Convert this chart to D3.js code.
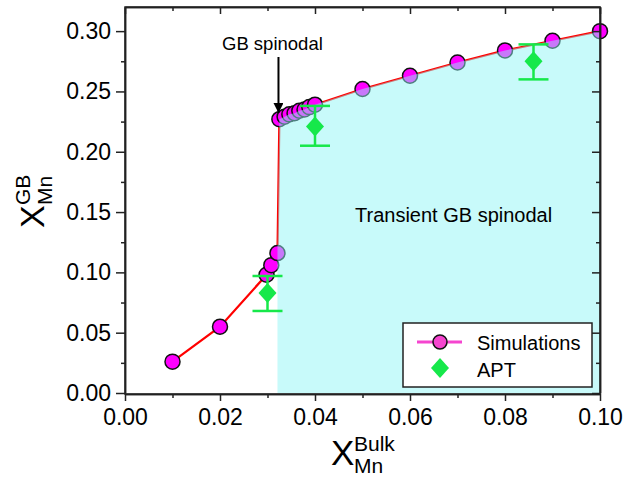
<!DOCTYPE html>
<html>
<head>
<meta charset="utf-8">
<script src="https://cdn.jsdelivr.net/npm/d3@7"></script>
<style>
body { margin: 0; background: #fff; }
svg text { font-family: "Liberation Sans", Arial, sans-serif; fill: #000; }
</style>
</head>
<body>
<svg id="chart" width="638" height="478"></svg>
<script>
// simulation points (bulk Mn fraction vs GB Mn fraction)
const simX = [0.01, 0.02, 0.0298, 0.0308, 0.0321, 0.0325, 0.0336, 0.0346, 0.0357, 0.0367, 0.0378, 0.0388, 0.0400, 0.05, 0.06, 0.07, 0.08, 0.09, 0.10];
const simY = [0.026, 0.055, 0.098, 0.106, 0.116, 0.227, 0.229, 0.231, 0.232, 0.234, 0.235, 0.237, 0.239, 0.252, 0.263, 0.274, 0.284, 0.292, 0.300];
// APT measurements with error bars
const aptX = [0.030, 0.040, 0.086];
const aptY = [0.083, 0.221, 0.275];
const aptLo = [0.068, 0.205, 0.260];
const aptHi = [0.097, 0.238, 0.289];
// start of the transient spinodal region
const spinX = 0.0321;
const xTicks = [0, 0.02, 0.04, 0.06, 0.08, 0.10];
const yTicks = [0, 0.05, 0.10, 0.15, 0.20, 0.25, 0.30];

const svg = d3.select("#chart");
const L = 125, R = 600, T = 7, B = 394;
const x = d3.scaleLinear().domain([0, 0.10]).range([L, R]);
const y = d3.scaleLinear().domain([0, 0.32]).range([B - 1, T]);

const sim = simX.map((d, i) => [d, simY[i]]);

// line + circles
svg.append("path").datum(sim)
  .attr("fill", "none").attr("stroke", "#ff0000").attr("stroke-width", 2.2)
  .attr("d", d3.line().x(d => x(d[0])).y(d => y(d[1])));
svg.selectAll("circle.sim").data(sim).enter().append("circle")
  .attr("class", "sim")
  .attr("cx", d => x(d[0])).attr("cy", d => y(d[1])).attr("r", 7.5)
  .attr("fill", "#ff00ff").attr("stroke", "#111").attr("stroke-width", 1.5);

// translucent region under the curve
const region = [[spinX, 0]].concat(sim.filter(d => d[0] >= spinX)).concat([[0.10, 0]]);
svg.append("path").datum(region)
  .attr("fill", "rgb(143,245,245)").attr("fill-opacity", 0.49)
  .attr("d", d3.line().x(d => x(d[0])).y(d => y(d[1])));

// APT error bars + diamonds
const green = "#16e84a";
aptX.forEach((d, i) => {
  const g = svg.append("g").attr("stroke", green).attr("stroke-width", 2.5);
  g.append("line").attr("x1", x(d)).attr("x2", x(d)).attr("y1", y(aptLo[i])).attr("y2", y(aptHi[i]));
  g.append("line").attr("x1", x(d) - 15).attr("x2", x(d) + 15).attr("y1", y(aptLo[i])).attr("y2", y(aptLo[i]));
  g.append("line").attr("x1", x(d) - 15).attr("x2", x(d) + 15).attr("y1", y(aptHi[i])).attr("y2", y(aptHi[i]));
});
svg.selectAll("path.apt").data(aptX).enter().append("path")
  .attr("class", "apt")
  .attr("transform", (d, i) => `translate(${x(d)},${y(aptY[i])})`)
  .attr("d", "M0,-10L9,0L0,10L-9,0Z")
  .attr("fill", green);

// axes
const fmt = d3.format(".2f");
const axisStyle = g => {
  g.selectAll("path.domain").attr("stroke", "#222").attr("stroke-width", 1.5);
  g.selectAll("line").attr("stroke", "#222").attr("stroke-width", 1.5);
  g.selectAll("text").style("font-size", "23px").attr("fill", "#000");
};
svg.append("g").attr("transform", `translate(0,${B})`)
  .call(d3.axisBottom(x).tickValues([0.01, 0.03, 0.05, 0.07, 0.09]).tickSize(4).tickFormat("").tickSizeOuter(0))
  .call(axisStyle);
svg.append("g").attr("transform", `translate(0,${B})`)
  .call(d3.axisBottom(x).tickValues(xTicks).tickSize(7).tickPadding(8).tickFormat(fmt).tickSizeOuter(0))
  .call(axisStyle);
svg.append("g").attr("transform", `translate(${L},0)`)
  .call(d3.axisLeft(y).tickValues([0.025, 0.075, 0.125, 0.175, 0.225, 0.275]).tickSize(4).tickFormat("").tickSizeOuter(0))
  .call(axisStyle);
svg.append("g").attr("transform", `translate(${L},0)`)
  .call(d3.axisLeft(y).tickValues(yTicks).tickSize(9).tickPadding(5).tickFormat(fmt).tickSizeOuter(0))
  .call(axisStyle);
// mirror axes, ticks pointing inside
svg.append("g").attr("transform", `translate(0,${T})`)
  .call(d3.axisBottom(x).tickValues([0.01, 0.03, 0.05, 0.07, 0.09]).tickSize(4).tickFormat("").tickSizeOuter(0))
  .call(axisStyle);
svg.append("g").attr("transform", `translate(0,${T})`)
  .call(d3.axisBottom(x).tickValues(xTicks).tickSize(7).tickFormat("").tickSizeOuter(0))
  .call(axisStyle);
svg.append("g").attr("transform", `translate(${R},0)`)
  .call(d3.axisLeft(y).tickValues([0.025, 0.075, 0.125, 0.175, 0.225, 0.275]).tickSize(4).tickFormat("").tickSizeOuter(0))
  .call(axisStyle);
svg.append("g").attr("transform", `translate(${R},0)`)
  .call(d3.axisLeft(y).tickValues(yTicks).tickSize(8).tickFormat("").tickSizeOuter(0))
  .call(axisStyle);
svg.append("rect").attr("x", L).attr("y", T).attr("width", R - L).attr("height", B - T)
  .attr("fill", "none").attr("stroke", "#222").attr("stroke-width", 1.5);

// axis titles
const xt = svg.append("g").attr("transform", "translate(331,465)");
xt.append("text").text("X").style("font-size", "35px");
xt.append("text").text("Bulk").attr("x", 23).attr("y", -14).style("font-size", "21px");
xt.append("text").text("Mn").attr("x", 23).attr("y", 8).style("font-size", "21px");
const yt = svg.append("g").attr("transform", "translate(44,228) rotate(-90)");
yt.append("text").text("X").style("font-size", "34px");
yt.append("text").text("GB").attr("x", 23).attr("y", -14).style("font-size", "21px");
yt.append("text").text("Mn").attr("x", 23).attr("y", 8).style("font-size", "21px");

// annotations
svg.append("defs").append("marker").attr("id", "arr")
  .attr("viewBox", "0 0 10 10").attr("refX", 10).attr("refY", 5)
  .attr("markerWidth", 5).attr("markerHeight", 5).attr("orient", "auto")
  .append("path").attr("d", "M0,0L10,5L0,10Z").attr("fill", "#000");
svg.append("text").text("GB spinodal").attr("x", 222).attr("y", 50).style("font-size", "18.5px");
svg.append("line").attr("x1", x(spinX) + 1).attr("x2", x(spinX) + 1).attr("y1", 57).attr("y2", 113)
  .attr("stroke", "#000").attr("stroke-width", 2).attr("marker-end", "url(#arr)");
svg.append("text").text("Transient GB spinodal").attr("x", 355).attr("y", 222).style("font-size", "20px");

// legend
const lg = svg.append("g");
lg.append("rect").attr("x", 403).attr("y", 323).attr("width", 189).attr("height", 64)
  .attr("fill", "#fff").attr("stroke", "#222").attr("stroke-width", 1.5);
lg.append("line").attr("x1", 417).attr("x2", 462).attr("y1", 342).attr("y2", 342)
  .attr("stroke", "#f545cf").attr("stroke-width", 3);
lg.append("circle").attr("cx", 440).attr("cy", 342).attr("r", 7)
  .attr("fill", "#f545cf").attr("stroke", "#111").attr("stroke-width", 1.5);
lg.append("path").attr("transform", "translate(440,368)").attr("d", "M0,-10L9,0L0,10L-9,0Z").attr("fill", green);
lg.append("text").text("Simulations").attr("x", 477).attr("y", 350).style("font-size", "20px");
lg.append("text").text("APT").attr("x", 477).attr("y", 377).style("font-size", "20px");
</script>
</body>
</html>
